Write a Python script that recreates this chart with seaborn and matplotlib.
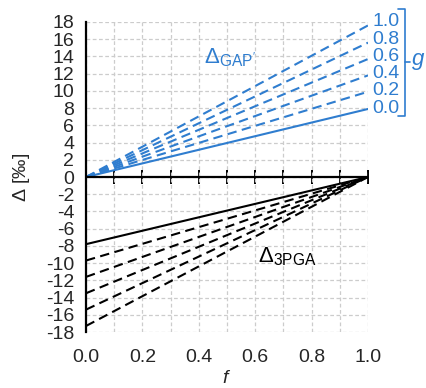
import numpy as np
import pandas as pd
import matplotlib
matplotlib.use("Agg")
import matplotlib.pyplot as plt
import matplotlib.transforms as mtransforms
import seaborn as sns

# ---- data ----
f_vals = [0.0, 1.0]
g_vals = [0.0, 0.2, 0.4, 0.6, 0.8, 1.0]
g_labels = ["0.0", "0.2", "0.4", "0.6", "0.8", "1.0"]
gap_end = [7.9, 9.9, 11.8, 13.7, 15.6, 17.6]        # Δ_GAP' at f=1 (0 at f=0)
pga_start = [-7.8, -9.7, -11.6, -13.5, -15.4, -17.3]  # Δ_3PGA at f=0 (0 at f=1)
x_ticks = [0.0, 0.2, 0.4, 0.6, 0.8, 1.0]
x_tick_labels = ["0.0", "0.2", "0.4", "0.6", "0.8", "1.0"]
y_ticks = list(range(-18, 19, 2))

rows = []
for g, lab, e, s in zip(g_vals, g_labels, gap_end, pga_start):
    rows.append(dict(f=f_vals[0], d=0.0, g=lab, kind="gap"))
    rows.append(dict(f=f_vals[1], d=e, g=lab, kind="gap"))
    rows.append(dict(f=f_vals[0], d=s, g=lab, kind="pga"))
    rows.append(dict(f=f_vals[1], d=0.0, g=lab, kind="pga"))
df = pd.DataFrame(rows)

sns.set_style("white")
plt.rcParams["font.family"] = ["Liberation Sans", "DejaVu Sans"]
plt.rcParams["mathtext.fontset"] = "custom"
plt.rcParams["mathtext.rm"] = "Liberation Sans"
plt.rcParams["mathtext.it"] = "Liberation Sans:italic"

BLUE = "#2f7dcf"
FS = 14
fig = plt.figure(figsize=(4.27, 3.88), dpi=100)
ax = fig.add_axes([0.2014, 0.1443, 0.6604, 0.799])

dash = (0, (4.5, 2.6))
for lab in g_labels:
    ls = "-" if lab == "0.0" else dash
    sub = df[(df.g == lab) & (df.kind == "gap")]
    sns.lineplot(data=sub, x="f", y="d", ax=ax, color=BLUE, lw=1.5,
                 linestyle=ls, legend=False, zorder=3)
    sub = df[(df.g == lab) & (df.kind == "pga")]
    sns.lineplot(data=sub, x="f", y="d", ax=ax, color="black", lw=1.5,
                 linestyle=ls, legend=False, zorder=3)

ax.set_xlim(0, 1)
ax.set_ylim(-18, 18)
ax.set_xticks(x_ticks)
ax.set_xticklabels(x_tick_labels)
ax.set_xticks(np.arange(0.1, 1.0, 0.2), minor=True)
ax.set_yticks(y_ticks)
ax.set_yticklabels([str(v) for v in y_ticks])
ax.set_yticks(np.arange(-17, 18, 2), minor=True)

ax.grid(True, which="major", axis="both", color="#cccccc", lw=0.9,
        linestyle=(0, (3, 2)), zorder=0)
ax.grid(True, which="minor", axis="x", color="#cccccc", lw=0.9,
        linestyle=(0, (3, 2)), zorder=0)

for s in ["top", "right", "bottom"]:
    ax.spines[s].set_visible(False)
ax.spines["left"].set_color("black")
ax.spines["left"].set_linewidth(1.6)
ax.spines["left"].set_zorder(4)

ax.tick_params(axis="x", which="both", length=0, labelsize=FS, pad=12)
ax.tick_params(axis="y", which="major", direction="inout", length=9,
               width=1.4, labelsize=FS, pad=4, color="black")
ax.tick_params(axis="y", which="minor", direction="in", length=5,
               width=1.4, color="black")

# x axis line through zero
ax.axhline(0, color="black", lw=1.6, zorder=4)
sec = ax.secondary_xaxis(0.5)
sec.set_xticks(np.arange(0, 1.01, 0.1))
sec.set_xticklabels([])
sec.tick_params(direction="inout", length=10, width=1.4, color="black")
for s in sec.spines.values():
    s.set_visible(False)

ax.set_xlabel(r"$\mathit{f}$", fontsize=FS, labelpad=3)
ax.set_ylabel(r"$\mathit{\Delta}$ [‰]", fontsize=FS, labelpad=10)

# series annotations
ax.text(0.42, 13.8, r"$\mathit{\Delta}_{\mathrm{GAP'}}$", color=BLUE,
        fontsize=16, ha="left", va="center")
ax.text(0.61, -9.3, r"$\mathit{\Delta}_{\mathrm{3PGA}}$", color="black",
        fontsize=16, ha="left", va="center")

# g labels at right
tr = mtransforms.blended_transform_factory(ax.transAxes, ax.transData)
label_y = [8, 10, 12, 14, 16, 18]
for lab, yv in zip(g_labels, label_y):
    ax.text(1.015, yv, lab, transform=tr, color=BLUE, fontsize=FS,
            ha="left", va="center", clip_on=False)
bx = 1.13
ax.plot([bx - 0.022, bx, bx, bx - 0.022], [19.5, 19.5, 7.1, 7.1],
        transform=tr, color=BLUE, lw=1.2, clip_on=False)
ax.plot([bx, bx + 0.02], [13.4, 13.4], transform=tr, color=BLUE, lw=1.2,
        clip_on=False)
ax.text(bx + 0.024, 13.4, r"$\mathit{g}$", transform=tr, color=BLUE,
        fontsize=16, ha="left", va="center", clip_on=False)

fig.savefig("out.png", dpi=100)
